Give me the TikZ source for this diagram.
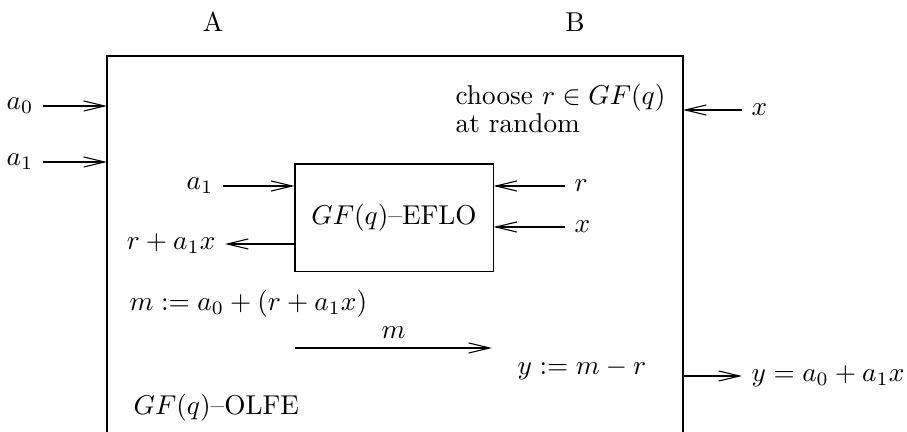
\documentclass[tikz,border=0pt]{standalone}
\usetikzlibrary{arrows.meta,positioning}

\begin{document}
\begin{tikzpicture}[x=0.367pt,y=-0.367pt,
        >={Straight Barb[length=7.7pt,width=3.7pt]},
        oracle/.style={draw,minimum width=72.7pt,minimum height=39.6pt}]
            \useasboundingbox (0,0) rectangle (907,432);
            \node (A) at (213,22) {A};
            \node (B) at (575,22) {B};
            \coordinate (boxNW) at (107,56);
            \coordinate (boxNE) at (683,56);
            \draw (107,432) -- (boxNW) -- (boxNE) -- (683,432);
            \node[anchor=east] (a0) at (43,106) {$a_0$};
            \node[anchor=east] (a1) at (43,162) {$a_1$};
            \draw[->] (a0) -- (a0 -| boxNW);
            \draw[->] (a1) -- (a1 -| boxNW);
            \node[anchor=west] (xout) at (742,110) {$x$};
            \draw[->] (xout) -- (xout -| boxNE);
            \node[anchor=base west] (choose) at (446,105) {choose $r\in GF(q)$};
            \node[anchor=base west] (random) at (446,133) {at random};
            \node[oracle] (eflo) at (394,218) {$GF(q)$--EFLO};
            \node[anchor=east] (a1in) at (223,186) {$a_1$};
            \draw[->] (a1in) -- (a1in -| eflo.west);
            \node[anchor=east] (sum) at (225,244) {$r+a_1x$};
            \draw[->] (sum -| eflo.west) -- (sum);
            \node[anchor=west] (rin) at (565,186) {$r$};
            \draw[->] (rin) -- (rin -| eflo.east);
            \node[anchor=west] (xin) at (565,227) {$x$};
            \draw[->] (xin) -- (xin -| eflo.east);
            \node[anchor=west] (msum) at (120,304) {$m:=a_0+(r+a_1x)$};
            \coordinate (mtail) at (295,348);
            \coordinate (mhead) at (492,348);
            \draw[->] (mtail) -- node[above] (mlbl) {$m$} (mhead);
            \node[anchor=west] (ydef) at (508,369) {$y:=m-r$};
            \node[anchor=west] (yout) at (742,376) {$y=a_0+a_1x$};
            \draw[->] (yout -| boxNE) -- (yout);
            \node[anchor=west] (olfe) at (124,408) {$GF(q)$--OLFE};
        \end{tikzpicture}
\end{document}
